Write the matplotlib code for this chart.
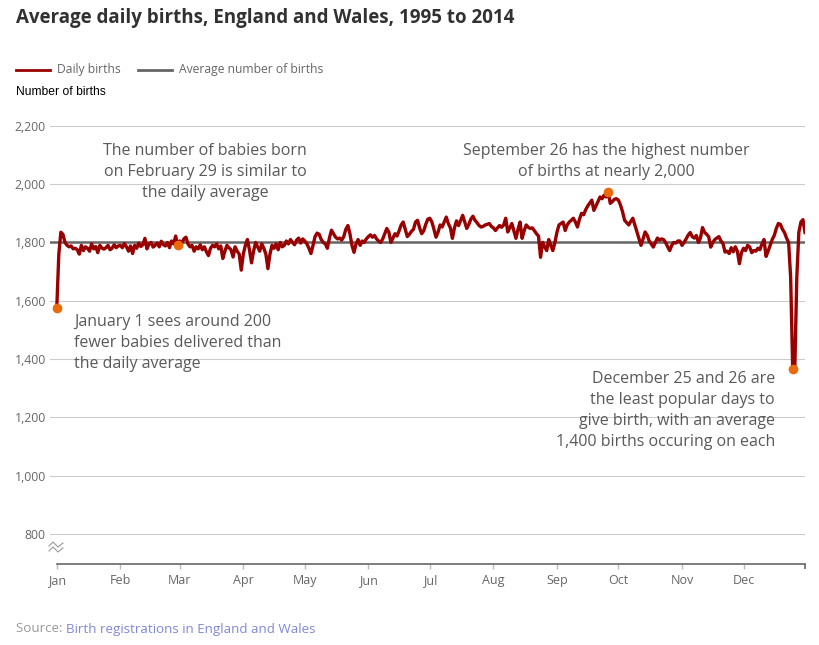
import numpy as np
import matplotlib.pyplot as plt
from matplotlib.lines import Line2D

# average daily births (1995-2014), one value per day of a leap year
jan = [1575, 1760, 1835, 1828, 1800, 1790, 1785, 1788, 1778, 1780, 1775, 1760, 1790, 1772, 1785, 1780,
       1770, 1795, 1778, 1786, 1765, 1790, 1781, 1777, 1782, 1790, 1775, 1780, 1792, 1782, 1788]
feb = [1790, 1782, 1796, 1785, 1770, 1788, 1762, 1790, 1780, 1798, 1786, 1792, 1814, 1778, 1795,
       1800, 1784, 1790, 1798, 1785, 1804, 1792, 1788, 1800, 1782, 1805, 1795, 1822, 1790]
mar = [1805, 1798, 1812, 1818, 1795, 1785, 1790, 1770, 1785, 1778, 1792, 1775, 1785, 1768, 1755, 1780,
       1790, 1785, 1795, 1778, 1788, 1745, 1770, 1790, 1782, 1775, 1750, 1785, 1770, 1760, 1705]
apr = [1760, 1790, 1810, 1775, 1730, 1770, 1800, 1785, 1770, 1795, 1780, 1760, 1710, 1760, 1790,
       1780, 1795, 1775, 1800, 1785, 1790, 1805, 1795, 1810, 1800, 1792, 1808, 1815, 1798, 1812]
may = [1805, 1795, 1780, 1762, 1790, 1820, 1832, 1828, 1810, 1800, 1795, 1780, 1815, 1842, 1830, 1818,
       1812, 1815, 1808, 1820, 1845, 1858, 1830, 1790, 1766, 1795, 1810, 1790, 1805, 1800, 1812]
jun = [1820, 1826, 1818, 1824, 1812, 1805, 1800, 1812, 1830, 1848, 1835, 1800, 1815, 1830, 1822,
       1840, 1860, 1870, 1845, 1820, 1828, 1838, 1845, 1870, 1876, 1850, 1830, 1840, 1862, 1880]
jul = [1883, 1870, 1845, 1818, 1835, 1860, 1853, 1870, 1887, 1865, 1850, 1814, 1850, 1874, 1858, 1875,
       1893, 1870, 1848, 1862, 1880, 1890, 1876, 1868, 1858, 1853, 1855, 1860, 1862, 1865, 1855]
aug = [1850, 1841, 1850, 1858, 1852, 1860, 1883, 1836, 1850, 1865, 1840, 1814, 1845, 1870, 1814, 1840,
       1860, 1852, 1848, 1850, 1840, 1830, 1822, 1749, 1800, 1785, 1772, 1810, 1790, 1772, 1800]
sep = [1835, 1860, 1865, 1870, 1841, 1860, 1870, 1876, 1883, 1870, 1853, 1880, 1900, 1895, 1912,
       1925, 1935, 1945, 1910, 1925, 1940, 1956, 1950, 1962, 1956, 1972, 1934, 1940, 1948, 1950]
oct_ = [1945, 1928, 1905, 1876, 1868, 1860, 1872, 1883, 1860, 1836, 1815, 1790, 1812, 1836, 1825, 1805,
        1795, 1784, 1800, 1815, 1808, 1812, 1810, 1800, 1785, 1772, 1790, 1800, 1798, 1805, 1805]
nov = [1790, 1800, 1812, 1825, 1834, 1820, 1815, 1824, 1800, 1815, 1851, 1835, 1828, 1820, 1784,
       1800, 1810, 1815, 1820, 1805, 1796, 1767, 1770, 1762, 1782, 1768, 1785, 1770, 1727, 1765]
dec = [1780, 1772, 1790, 1785, 1765, 1772, 1770, 1780, 1775, 1795, 1810, 1752, 1770, 1790, 1810, 1824,
       1848, 1865, 1862, 1845, 1834, 1815, 1800, 1680, 1365, 1358, 1680, 1835, 1870, 1878, 1834]

months = [jan, feb, mar, apr, may, jun, jul, aug, sep, oct_, nov, dec]
month_labels = ['Jan', 'Feb', 'Mar', 'Apr', 'May', 'Jun', 'Jul', 'Aug', 'Sep', 'Oct', 'Nov', 'Dec']
births = np.concatenate(months)
days = np.arange(len(births))
month_starts = np.cumsum([0] + [len(m) for m in months[:-1]])
average = 1800

# highlighted days: Jan 1, Feb 29, Sep 26, Dec 25
highlight = [0, 59, 269, 359]

W, H = 819, 645
def px(x, y):
    return x / W, 1 - y / H

plt.rcParams['font.family'] = ['Open Sans', 'DejaVu Sans']
fig = plt.figure(figsize=(W / 100, H / 100), dpi=100)
ax = fig.add_axes([50 / W, 1 - 564 / H, 755 / W, 444 / H])

ax.axhline(average, color='#666666', lw=1.8, zorder=2)
ax.plot(days, births, color='#990000', lw=2.4, zorder=3, solid_joinstyle='round')
ax.plot(days[highlight], births[highlight], 'o', color='#eb6a0c', ms=6, zorder=4,
        clip_on=False)

ax.set_xlim(-3.3, 365)
ax.set_ylim(697, 2220)
ax.set_yticks(range(800, 2201, 200))
ax.set_yticklabels([f'{v:,}' for v in range(800, 2201, 200)])
ax.set_xticks(month_starts)
ax.set_xticklabels(month_labels)
ax.set_xticks([365], minor=True)
ax.grid(axis='y', color='#cccccc', lw=0.8)
ax.set_axisbelow(True)
for s in ['top', 'right', 'left']:
    ax.spines[s].set_visible(False)
ax.spines['bottom'].set_color('#666666')
ax.spines['bottom'].set_linewidth(1.2)
ax.spines['bottom'].set_bounds(0, 365)
ax.tick_params(axis='y', length=0, pad=3, labelsize=8.8, labelcolor='#666666')
ax.tick_params(axis='x', length=3.5, width=1, color='#bbbbbb', pad=4, labelsize=9,
               labelcolor='#666666')
ax.tick_params(axis='x', which='minor', length=3.5, width=1.2, color='#666666')
ax.get_xticklines()[0].set_color('#666666')

# axis break mark
for dy in (0, 5):
    fig.add_artist(Line2D([px(49, 0)[0], px(53, 0)[0], px(58, 0)[0], px(63, 0)[0]],
                          [px(0, 546 + dy)[1], px(0, 542 + dy)[1], px(0, 547 + dy)[1],
                           px(0, 543 + dy)[1]], color='#999999', lw=0.8))

# annotations
ann = dict(fontsize=11.5, color='#595959', linespacing=1.42)
fig.text(*px(205, 143), 'The number of babies born\non February 29 is similar to\nthe daily average',
         ha='center', va='top', **ann)
fig.text(*px(606, 143), 'September 26 has the highest number\nof births at nearly 2,000',
         ha='center', va='top', **ann)
fig.text(*px(74, 314), 'January 1 sees around 200\nfewer babies delivered than\nthe daily average',
         ha='left', va='top', **ann)
fig.text(*px(775, 371), 'December 25 and 26 are\nthe least popular days to\ngive birth, with an average\n'
         '1,400 births occuring on each', ha='right', va='top', **ann)

# title, legend, axis title
fig.text(*px(16, 18), 'Average daily births, England and Wales, 1995 to 2014',
         fontsize=13.5, fontweight='bold', color='#323132', va='center')
fig.add_artist(Line2D([px(16, 0)[0], px(50, 0)[0]], [px(0, 70)[1]] * 2, color='#990000', lw=2))
fig.text(*px(57, 70), 'Daily births', fontsize=8.7, color='#666666', va='center')
fig.add_artist(Line2D([px(138, 0)[0], px(172, 0)[0]], [px(0, 70)[1]] * 2, color='#666666', lw=2))
fig.text(*px(179, 70), 'Average number of births', fontsize=8.7, color='#666666', va='center')
fig.text(*px(16, 92), 'Number of births', fontsize=8.7, color='#000000', va='center',
         family='Liberation Sans')

# source
src = fig.text(*px(16, 629), 'Source: ', fontsize=9.6, color='#999999', va='center')
ax.annotate('Birth registrations in England and Wales', xy=(1, 0), xycoords=src,
            va='bottom', ha='left', fontsize=9.6, color='#8088d6')

fig.savefig('out.png', dpi=100)
